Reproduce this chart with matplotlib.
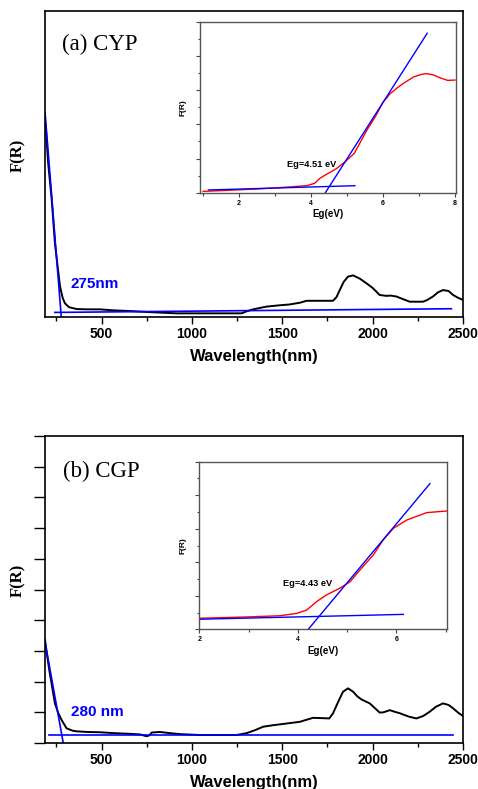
import numpy as np
import matplotlib.pyplot as plt
from matplotlib.ticker import MultipleLocator, NullFormatter

# Kubelka-Munk spectra, F(R) in arbitrary units
wl_cyp = [190, 205, 224, 242, 260, 270, 285, 297, 320, 362, 420, 490, 560, 638, 700,
          800, 915, 1000, 1100, 1200, 1274, 1300, 1338, 1413, 1480, 1541, 1600, 1634,
          1700, 1781, 1800, 1818, 1840, 1864, 1892, 1930, 1966, 2000, 2039, 2076, 2100,
          2131, 2170, 2205, 2279, 2300, 2334, 2360, 2389, 2420, 2445, 2475, 2500]
fr_cyp = [6.3, 5.0, 3.85, 2.4, 1.5, 1.0, 0.62, 0.45, 0.32, 0.26, 0.25, 0.25, 0.22, 0.20, 0.18,
          0.15, 0.12, 0.12, 0.12, 0.12, 0.12, 0.18, 0.25, 0.34, 0.38, 0.41, 0.47, 0.53,
          0.53, 0.53, 0.65, 0.88, 1.15, 1.32, 1.36, 1.25, 1.10, 0.95, 0.72, 0.69, 0.70,
          0.67, 0.58, 0.50, 0.50, 0.55, 0.67, 0.80, 0.88, 0.85, 0.72, 0.62, 0.56]

wl_cgp = [187, 195, 210, 242, 260, 279, 306, 340, 362, 420, 490, 574, 650, 712, 749, 765,
          777, 822, 880, 933, 1044, 1150, 1247, 1302, 1350, 1394, 1450, 1504, 1597, 1670,
          1720, 1760, 1781, 1810, 1836, 1864, 1892, 1915, 1938, 1984, 2010, 2039, 2060,
          2095, 2120, 2150, 2200, 2242, 2280, 2316, 2350, 2389, 2420, 2445, 2475, 2500]
fr_cgp = [3.36, 3.0, 2.4, 1.29, 0.98, 0.75, 0.48, 0.40, 0.38, 0.36, 0.35, 0.32, 0.30, 0.28,
          0.22, 0.25, 0.34, 0.36, 0.32, 0.29, 0.26, 0.26, 0.26, 0.32, 0.42, 0.53, 0.58, 0.62,
          0.69, 0.82, 0.81, 0.80, 0.97, 1.35, 1.67, 1.78, 1.67, 1.52, 1.42, 1.29, 1.15, 0.99,
          1.0, 1.07, 1.02, 0.97, 0.86, 0.80, 0.88, 1.02, 1.18, 1.29, 1.24, 1.13, 0.98, 0.88]

# Tauc-style plots vs photon energy
eg_cyp_x = [1.0, 1.5, 2.0, 2.5, 3.0, 3.5, 3.9, 4.1, 4.25, 4.45, 4.7, 4.94, 5.2, 5.55, 5.8,
            6.0, 6.2, 6.4, 6.6, 6.85, 7.05, 7.2, 7.4, 7.6, 7.8, 8.0]
eg_cyp_y = [0.08, 0.12, 0.17, 0.22, 0.28, 0.35, 0.42, 0.55, 0.85, 1.10, 1.40, 1.80, 2.30,
            3.65, 4.50, 5.30, 5.80, 6.15, 6.45, 6.78, 6.92, 6.98, 6.90, 6.72, 6.58, 6.60]
eg_cgp_x = [2.0, 2.5, 3.0, 3.64, 3.98, 4.18, 4.38, 4.58, 4.85, 5.06, 5.26, 5.53, 5.73, 5.94,
            6.21, 6.61, 7.02]
eg_cgp_y = [0.66, 0.70, 0.74, 0.81, 0.95, 1.15, 1.65, 2.05, 2.45, 2.84, 3.54, 4.43, 5.33,
            6.03, 6.52, 6.96, 7.06]

edge_cyp = 275   # nm
edge_cgp = 280   # nm
eg_cyp = 4.51    # eV
eg_cgp = 4.43    # eV

sans = ['Liberation Sans', 'DejaVu Sans']
serif = ['Liberation Serif', 'DejaVu Serif']

fig = plt.figure(figsize=(4.78, 7.89), dpi=100)
W, H = 478, 789


def px_axes(l, t, r, b):
    return fig.add_axes([l / W, 1 - b / H, (r - l) / W, (b - t) / H])


def style_main(ax, yticks):
    ax.set_xlim(187, 2500)
    ax.set_ylim(0, 10)
    ax.xaxis.set_major_locator(MultipleLocator(500))
    ax.xaxis.set_minor_locator(MultipleLocator(250))
    ax.tick_params(axis='x', which='major', direction='out', length=5, width=1,
                   labelsize=10, pad=2)
    ax.tick_params(axis='x', which='minor', direction='out', length=3, width=1)
    for lab in ax.get_xticklabels():
        lab.set_fontweight('bold')
        lab.set_family(sans)
    if yticks:
        ax.yaxis.set_major_locator(MultipleLocator(1))
        ax.tick_params(axis='y', direction='out', length=8, width=1, labelleft=False)
    else:
        ax.set_yticks([])
    for s in ax.spines.values():
        s.set_linewidth(1.2)
    ax.set_xlabel('Wavelength(nm)', fontsize=12, fontweight='bold', family=sans, labelpad=6)


def style_inset(ax, xlim, ylim):
    ax.set_xlim(*xlim)
    ax.set_ylim(*ylim)
    ax.xaxis.set_major_locator(MultipleLocator(2))
    ax.xaxis.set_minor_locator(MultipleLocator(1))
    ax.yaxis.set_major_locator(MultipleLocator(2))
    ax.yaxis.set_minor_locator(MultipleLocator(1))
    ax.tick_params(which='major', direction='out', length=3, width=0.8, color='#444444',
                   labelsize=5, pad=2, labelleft=False)
    ax.tick_params(which='minor', direction='out', length=1.8, width=0.8, color='#444444')
    ax.yaxis.set_minor_formatter(NullFormatter())
    for lab in ax.get_xticklabels():
        lab.set_fontweight('bold')
        lab.set_family(sans)
    for s in ax.spines.values():
        s.set_linewidth(1.0)
        s.set_color('#555555')
    ax.set_xlabel('Eg(eV)', fontsize=7, fontweight='bold', family=sans, labelpad=2)
    ax.set_ylabel('F(R)', fontsize=6, fontweight='bold', family=sans, labelpad=4)


# ---- (a) CYP ----
ax1 = px_axes(45, 11, 463, 317)
ax1.plot(wl_cyp, fr_cyp, color='black', lw=1.4)
b0, b1 = (241.7, 0.15), (2436, 0.27)
bslope = (b1[1] - b0[1]) / (b1[0] - b0[0])
yb = b0[1] + bslope * (edge_cyp - b0[0])
ax1.plot([b0[0], b1[0]], [b0[1], b1[1]], color='blue', lw=1.2)
s = (6.7 - yb) / (187 - edge_cyp)
ax1.plot([187, edge_cyp - yb / s], [6.7, 0], color='blue', lw=1.2)
ax1.text(0.062, 0.108, f'{edge_cyp}nm', transform=ax1.transAxes, color='blue',
         fontsize=11, fontweight='bold', family=sans, va='center')
ax1.text(0.041, 0.892, '(a) CYP', transform=ax1.transAxes, fontsize=16.5,
         family=serif, va='center')
style_main(ax1, yticks=False)

in1 = px_axes(199.5, 22, 456, 192.7)
in1.plot(eg_cyp_x, eg_cyp_y, color='red', lw=1.0)
ib0, ib1 = (1.15, 0.16), (5.22, 0.41)
islope = (ib1[1] - ib0[1]) / (ib1[0] - ib0[0])
iyb = ib0[1] + islope * (eg_cyp - ib0[0])
in1.plot([ib0[0], ib1[0]], [ib0[1], ib1[1]], color='blue', lw=1.0)
ks = 3.30
in1.plot([eg_cyp - iyb / ks, 7.23], [0, iyb + ks * (7.23 - eg_cyp)], color='blue', lw=1.0)
in1.text(3.33, 1.68, f'Eg={eg_cyp} eV', fontsize=6.7, fontweight='bold', family=sans,
         va='center')
style_inset(in1, (0.9, 8.03), (0, 10))

# ---- (b) CGP ----
ax2 = px_axes(45, 436, 463, 743)
ax2.plot(wl_cgp, fr_cgp, color='black', lw=1.4)
base2 = 0.26
ax2.plot([210, 2445], [base2, base2], color='blue', lw=1.2)
s2 = (3.30 - base2) / (187 - edge_cgp)
ax2.plot([187, edge_cgp - base2 / s2], [3.30, 0], color='blue', lw=1.2)
ax2.text(0.062, 0.102, f'{edge_cgp} nm', transform=ax2.transAxes, color='blue',
         fontsize=11, fontweight='bold', family=sans, va='center')
ax2.text(0.043, 0.884, '(b) CGP', transform=ax2.transAxes, fontsize=16.5,
         family=serif, va='center')
style_main(ax2, yticks=True)

in2 = px_axes(199.3, 461.7, 446.7, 629.3)
in2.plot(eg_cgp_x, eg_cgp_y, color='red', lw=1.0)
jb0, jb1 = (2.01, 0.60), (6.14, 0.89)
jslope = (jb1[1] - jb0[1]) / (jb1[0] - jb0[0])
jyb = jb0[1] + jslope * (eg_cgp - jb0[0])
in2.plot([jb0[0], jb1[0]], [jb0[1], jb1[1]], color='blue', lw=1.0)
ks2 = 3.52
in2.plot([eg_cgp - jyb / ks2, 6.68], [0, jyb + ks2 * (6.68 - eg_cgp)], color='blue', lw=1.0)
in2.text(3.70, 2.76, f'Eg={eg_cgp} eV', fontsize=6.7, fontweight='bold', family=sans,
         va='center')
style_inset(in2, (2, 7.02), (0, 10))

fig.text(18.5 / W, 1 - 155 / H, 'F(R)', rotation=90, fontsize=12, fontweight='bold',
         family=serif, ha='center', va='center')
fig.text(18.5 / W, 1 - 580 / H, 'F(R)', rotation=90, fontsize=12, fontweight='bold',
         family=serif, ha='center', va='center')

fig.savefig('out.png', dpi=100)
